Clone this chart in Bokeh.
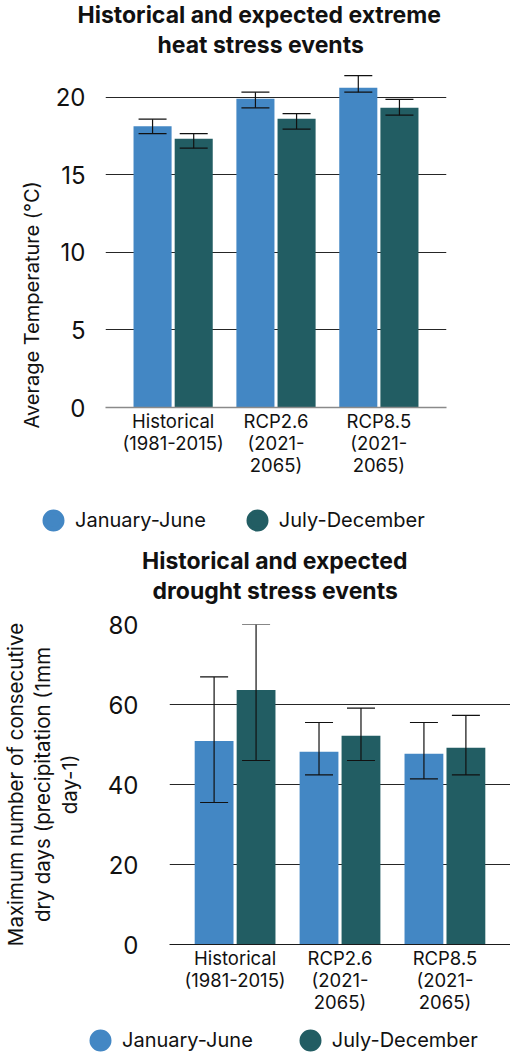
import numpy as np
from bokeh.plotting import figure
from bokeh.models import (ColumnDataSource, FactorRange, Range1d, FixedTicker, Whisker,
                          TeeHead, Legend, LegendItem, Title, LinearAxis)
from bokeh.transform import dodge
from bokeh.layouts import column
from bokeh.embed import file_html
from bokeh.resources import INLINE

# ---------------- data ----------------
periods = ["Historical\n(1981-2015)", "RCP2.6\n(2021-\n2065)", "RCP8.5\n(2021-\n2065)"]
series_names = ["January-June", "July-December"]

heat_title = ["Historical and expected extreme", "heat stress events"]
heat_ylabel = "Average Temperature (\u00b0C)"
heat_jan = [18.13, 19.89, 20.60]
heat_jan_low = [17.65, 19.31, 20.32]
heat_jan_high = [18.58, 20.32, 21.39]
heat_jul = [17.31, 18.60, 19.31]
heat_jul_low = [16.71, 17.94, 18.84]
heat_jul_high = [17.65, 18.94, 19.85]
heat_ticks = [0, 5, 10, 15, 20]

drought_title = ["Historical and expected", "drought stress events"]
drought_ylabel = ["Maximum number of consecutive", "dry days (precipitation (1mm", "day-1)"]
drought_jan = [50.9, 48.2, 47.7]
drought_jan_low = [35.5, 42.4, 41.4]
drought_jan_high = [66.9, 55.5, 55.5]
drought_jul = [63.6, 52.2, 49.2]
drought_jul_low = [46.0, 46.0, 42.4]
drought_jul_high = [80.0, 59.1, 57.3]
drought_ticks = [0, 20, 40, 60, 80]

# ---------------- style ----------------
FONT = "Inter"
BLUE = "#4387c4"
TEAL = "#225d63"
INK = "#111111"
GRID = "#262626"


def title_line(text, offset, valign):
    return Title(text=text, align="left", offset=offset, standoff=0, vertical_align=valign,
                 text_font=FONT, text_font_size="23px", text_font_style="bold",
                 text_color=INK)


def build(jan, jan_lo, jan_hi, jul, jul_lo, jul_hi, ticks, ymax, height,
          border_left, border_right, border_top, border_bottom, pad, tick_standoff):
    src = ColumnDataSource(dict(period=periods, jan=jan, jan_lo=jan_lo, jan_hi=jan_hi,
                                jul=jul, jul_lo=jul_lo, jul_hi=jul_hi))
    p = figure(x_range=FactorRange(*periods, range_padding=pad),
               y_range=Range1d(0, ymax), width=510, height=height,
               output_backend="svg", toolbar_location=None,
               min_border_left=border_left, min_border_right=border_right,
               min_border_top=border_top, min_border_bottom=border_bottom)
    p.frame_align = False
    p.outline_line_color = None

    p.vbar(x=dodge("period", -0.2, range=p.x_range), top="jan", width=0.37,
           source=src, fill_color=BLUE, line_color=None)
    p.vbar(x=dodge("period", 0.2, range=p.x_range), top="jul", width=0.37,
           source=src, fill_color=TEAL, line_color=None)

    for off, lo, hi in ((-0.2, "jan_lo", "jan_hi"), (0.2, "jul_lo", "jul_hi")):
        w = Whisker(source=src, base=dodge("period", off, range=p.x_range),
                    upper=hi, lower=lo, line_color=INK, line_width=1.2,
                    level="annotation",
                    upper_head=TeeHead(size=28, line_color=INK, line_width=1.2),
                    lower_head=TeeHead(size=28, line_color=INK, line_width=1.2))
        p.add_layout(w)

    p.xgrid.visible = False
    p.ygrid.ticker = FixedTicker(ticks=ticks)
    p.ygrid.grid_line_color = GRID
    p.ygrid.grid_line_width = 1.2

    p.yaxis.ticker = FixedTicker(ticks=ticks)
    p.yaxis.axis_line_color = None
    p.yaxis.major_tick_line_color = None
    p.yaxis.minor_tick_line_color = None
    p.yaxis.major_tick_in = 0
    p.yaxis.major_tick_out = 0
    p.yaxis.major_label_text_font = FONT
    p.yaxis.major_label_text_font_size = "24px"
    p.yaxis.major_label_text_color = INK
    p.yaxis.major_label_standoff = tick_standoff

    p.xaxis.axis_line_color = "#8a8a8a"
    p.xaxis.axis_line_width = 1.5
    p.xaxis.major_tick_line_color = None
    p.xaxis.minor_tick_line_color = None
    p.xaxis.major_tick_in = 0
    p.xaxis.major_tick_out = 0
    p.xaxis.major_label_text_font = FONT
    p.xaxis.major_label_text_font_size = "18.5px"
    p.xaxis.major_label_text_color = INK
    p.xaxis.major_label_standoff = 2
    p.xaxis.major_label_text_line_height = 1.0
    return p


def legend_strip(height, loc, spacing):
    q = figure(width=510, height=height, x_range=Range1d(0, 1), y_range=Range1d(0, 1),
               output_backend="svg", toolbar_location=None, min_border=0,
               x_axis_location=None, y_axis_location=None)
    q.frame_align = False
    q.outline_line_color = None
    q.grid.visible = False
    # legend proxies (one undefined point each, never drawn in the frame)
    proxy = np.array([np.nan])
    r1 = q.scatter(x=proxy, y=proxy, marker="circle", size=22, fill_color=BLUE,
                   line_color=BLUE, line_width=4.4)
    r2 = q.scatter(x=proxy, y=proxy, marker="circle", size=22, fill_color=TEAL,
                   line_color=TEAL, line_width=4.4)
    leg = Legend(items=[LegendItem(label=series_names[0], renderers=[r1]),
                        LegendItem(label=series_names[1], renderers=[r2])],
                 orientation="horizontal", location=loc,
                 glyph_width=44, glyph_height=44, label_standoff=0,
                 spacing=spacing, padding=0, margin=0,
                 border_line_color=None, background_fill_alpha=0,
                 label_text_font=FONT, label_text_font_size="20px",
                 label_text_color=INK)
    q.add_layout(leg)
    return q


# ---- heat chart ----
top = build(heat_jan, heat_jan_low, heat_jan_high, heat_jul, heat_jul_low, heat_jul_high,
            heat_ticks, 22.36, height=492, border_left=105, border_right=64,
            border_top=60, border_bottom=85, pad=0.105, tick_standoff=20)
top.add_layout(title_line(heat_title[1], 52, "top"), "above")
top.add_layout(title_line(heat_title[0], -28, "top"), "above")
top.add_layout(Title(text=heat_ylabel, align="left", offset=-21, standoff=17,
                     vertical_align="bottom", text_font=FONT, text_font_size="20px",
                     text_font_style="normal", text_color=INK), "left")

# ---- legend strip 1 (carries the drought chart's heading below it) ----
leg_top = legend_strip(114, (31, 4.5), 29)
leg_top.add_layout(title_line(drought_title[0], 141.5, "top"), "below")
leg_top.add_layout(title_line(drought_title[1], 152, "top"), "below")

# ---- drought chart ----
bottom = build(drought_jan, drought_jan_low, drought_jan_high, drought_jul, drought_jul_low,
               drought_jul_high, drought_ticks, 80, height=409, border_left=169,
               border_right=0, border_top=18, border_bottom=70, pad=0.0834, tick_standoff=31)
bottom.xaxis.axis_line_color = "#1a1a1a"
bottom.xaxis.axis_line_width = 1
# blank gap between the tick labels and the three-line axis title
spacer = LinearAxis(ticker=FixedTicker(ticks=[0]), axis_line_color=None,
                    major_tick_in=0, major_tick_out=22, major_label_standoff=0,
                    major_tick_line_color="white", minor_tick_line_color=None,
                    major_label_overrides={0: ""}, major_label_text_font_size="1px")
bottom.add_layout(spacer, "left")
for line in reversed(drought_ylabel):
    bottom.add_layout(Title(text=line, align="center", standoff=0, vertical_align="middle",
                            text_font=FONT, text_font_size="20.5px", text_font_style="normal",
                            text_color=INK), "left")

leg_bottom = legend_strip(46, (78, -1), 35)

layout = column(top, leg_top, bottom, leg_bottom, spacing=0)
open("out.html", "w").write(file_html(layout, INLINE))
